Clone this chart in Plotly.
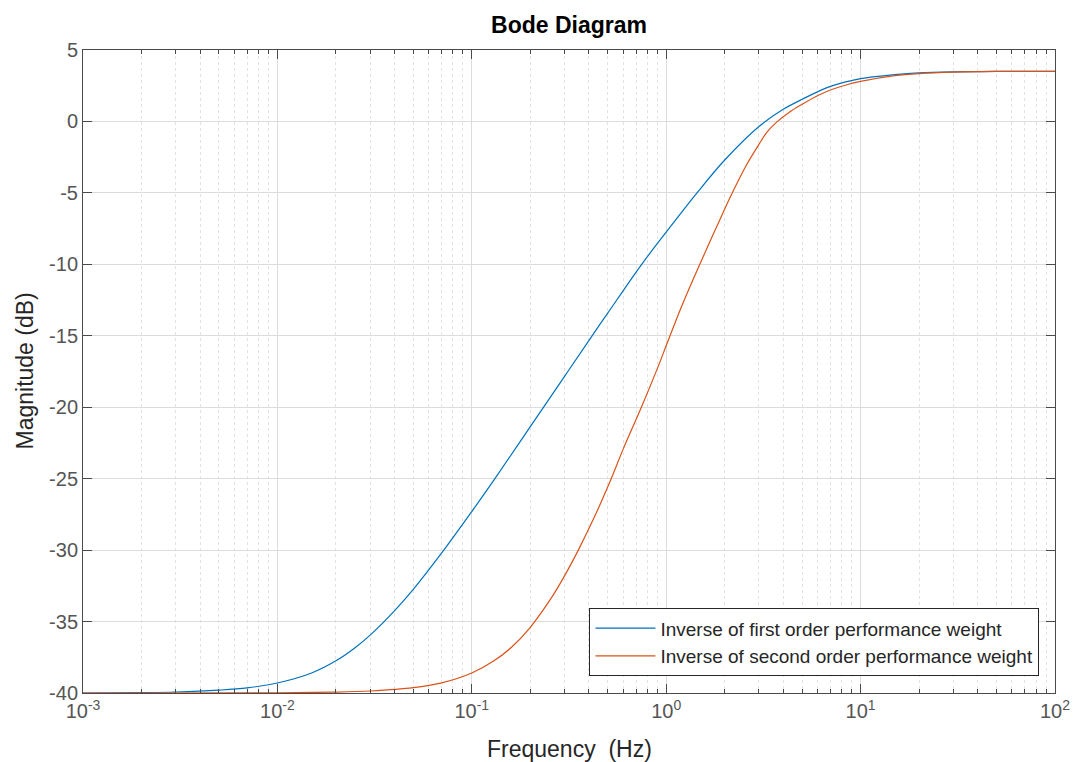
import plotly.graph_objects as go

# Frequencies (Hz) and magnitudes (dB)
freq_first = [0.001, 0.002, 0.003, 0.005, 0.007, 0.01, 0.015, 0.02, 0.025, 0.03, 0.04, 0.05, 0.07,
              0.1, 0.1315, 0.2, 0.3, 0.414, 0.5, 0.748, 1.0, 1.44, 2.0, 3.0, 4.0, 5.0, 7.0,
              10.0, 15.0, 20.0, 30.0, 50.0, 100.0]
mag_first = [-40.0, -39.97, -39.93, -39.8, -39.64, -39.3, -38.6, -37.75, -36.85, -35.95, -34.25, -32.75, -30.2,
             -27.3, -25.0, -21.36, -17.84, -15.04, -13.42, -10.0, -7.75, -5.0, -2.7, -0.35, 0.85, 1.55, 2.45,
             3.0, 3.28, 3.4, 3.47, 3.5, 3.5]

freq_second = [0.001, 0.01, 0.02, 0.03, 0.05, 0.07, 0.1, 0.13, 0.16, 0.2, 0.255, 0.3,
               0.353, 0.43, 0.514, 0.6, 0.748, 0.9, 1.026, 1.2, 1.5, 1.8, 2.17, 2.6, 3.0, 3.3, 3.7,
               4.3, 5.0, 6.0, 7.0, 8.5, 10.0, 15.0, 20.0, 30.0, 50.0, 100.0]
mag_second = [-40.0, -39.99, -39.94, -39.86, -39.63, -39.29, -38.6, -37.75, -36.8, -35.4, -33.4, -31.8,
              -30.0, -27.6, -25.2, -22.95, -19.95, -17.3, -15.3, -12.95, -9.9, -7.5, -5.1, -3.0, -1.6, -0.75, -0.05,
              0.65, 1.2, 1.8, 2.2, 2.57, 2.8, 3.2, 3.35, 3.45, 3.5, 3.5]

series_names = ["Inverse of first order performance weight",
                "Inverse of second order performance weight"]

x_tick_vals = [0.001, 0.01, 0.1, 1, 10, 100]
x_tick_text = ["10<sup>-3</sup>", "10<sup>-2</sup>", "10<sup>-1</sup>", "10<sup>0</sup>",
               "10<sup>1</sup>", "10<sup>2</sup>"]
y_tick_vals = [-40, -35, -30, -25, -20, -15, -10, -5, 0, 5]
y_tick_text = ["-40", "-35", "-30", "-25", "-20", "-15", "-10", "-5", "0", "5"]

minor_vals = [k * 10.0 ** e for e in range(-3, 2) for k in range(2, 10)]

FONT = "Liberation Sans, Arial, sans-serif"
AX = "#4a4a4a"

fig = go.Figure()
fig.add_trace(go.Scatter(x=freq_first, y=mag_first, mode="lines", name=series_names[0],
                         line=dict(color="#0072BD", width=1.2, shape="spline", smoothing=1)))
fig.add_trace(go.Scatter(x=freq_second, y=mag_second, mode="lines", name=series_names[1],
                         line=dict(color="#D95319", width=1.2, shape="spline", smoothing=1)))

fig.update_layout(
    width=1076, height=762,
    margin=dict(l=83, r=21, t=50, b=69),
    paper_bgcolor="white", plot_bgcolor="white",
    font=dict(family=FONT, color="#262626"),
    title=dict(text="<b>Bode Diagram</b>", x=0.5, xref="paper", y=1 - 25 / 762, yref="container",
               yanchor="middle", xanchor="center", font=dict(size=23, color="#000000")),
    showlegend=True,
    legend=dict(x=0.984, xanchor="right", y=0.026, yanchor="bottom",
                bgcolor="white", bordercolor="#262626", borderwidth=1,
                font=dict(size=19, color="#262626"), itemwidth=60,
                tracegroupgap=0),
    annotations=[
        dict(text="Frequency\u00a0 (Hz)", xref="paper", yref="paper", x=0.5, y=0,
             xanchor="center", yanchor="middle", yshift=-56, showarrow=False,
             font=dict(size=23, color="#262626")),
        dict(text="Magnitude (dB)", xref="paper", yref="paper", x=0, y=0.5,
             xanchor="center", yanchor="middle", xshift=-59, textangle=-90, showarrow=False,
             font=dict(size=23, color="#262626")),
    ],
)

fig.update_xaxes(
    type="log", range=[-3, 2], automargin=False,
    tickmode="array", tickvals=x_tick_vals, ticktext=x_tick_text,
    tickfont=dict(size=20, color="#555555"),
    showline=True, linecolor=AX, linewidth=1, mirror="ticks",
    ticks="inside", ticklen=9, tickcolor=AX,
    showgrid=True, gridcolor="#dcdcdc", gridwidth=1,
    zeroline=False,
    minor=dict(tickmode="array", tickvals=minor_vals, ticks="inside", ticklen=4,
               tickcolor=AX, showgrid=True, gridcolor="#e2e2e2", griddash="dot"),
)
fig.update_yaxes(
    range=[-40, 5], automargin=False,
    tickmode="array", tickvals=y_tick_vals, ticktext=y_tick_text,
    tickfont=dict(size=20, color="#555555"),
    showline=True, linecolor=AX, linewidth=1, mirror="ticks",
    ticks="inside", ticklen=9, tickcolor=AX,
    showgrid=True, gridcolor="#dcdcdc", gridwidth=1,
    zeroline=False,
)

fig.write_html("out.html")
